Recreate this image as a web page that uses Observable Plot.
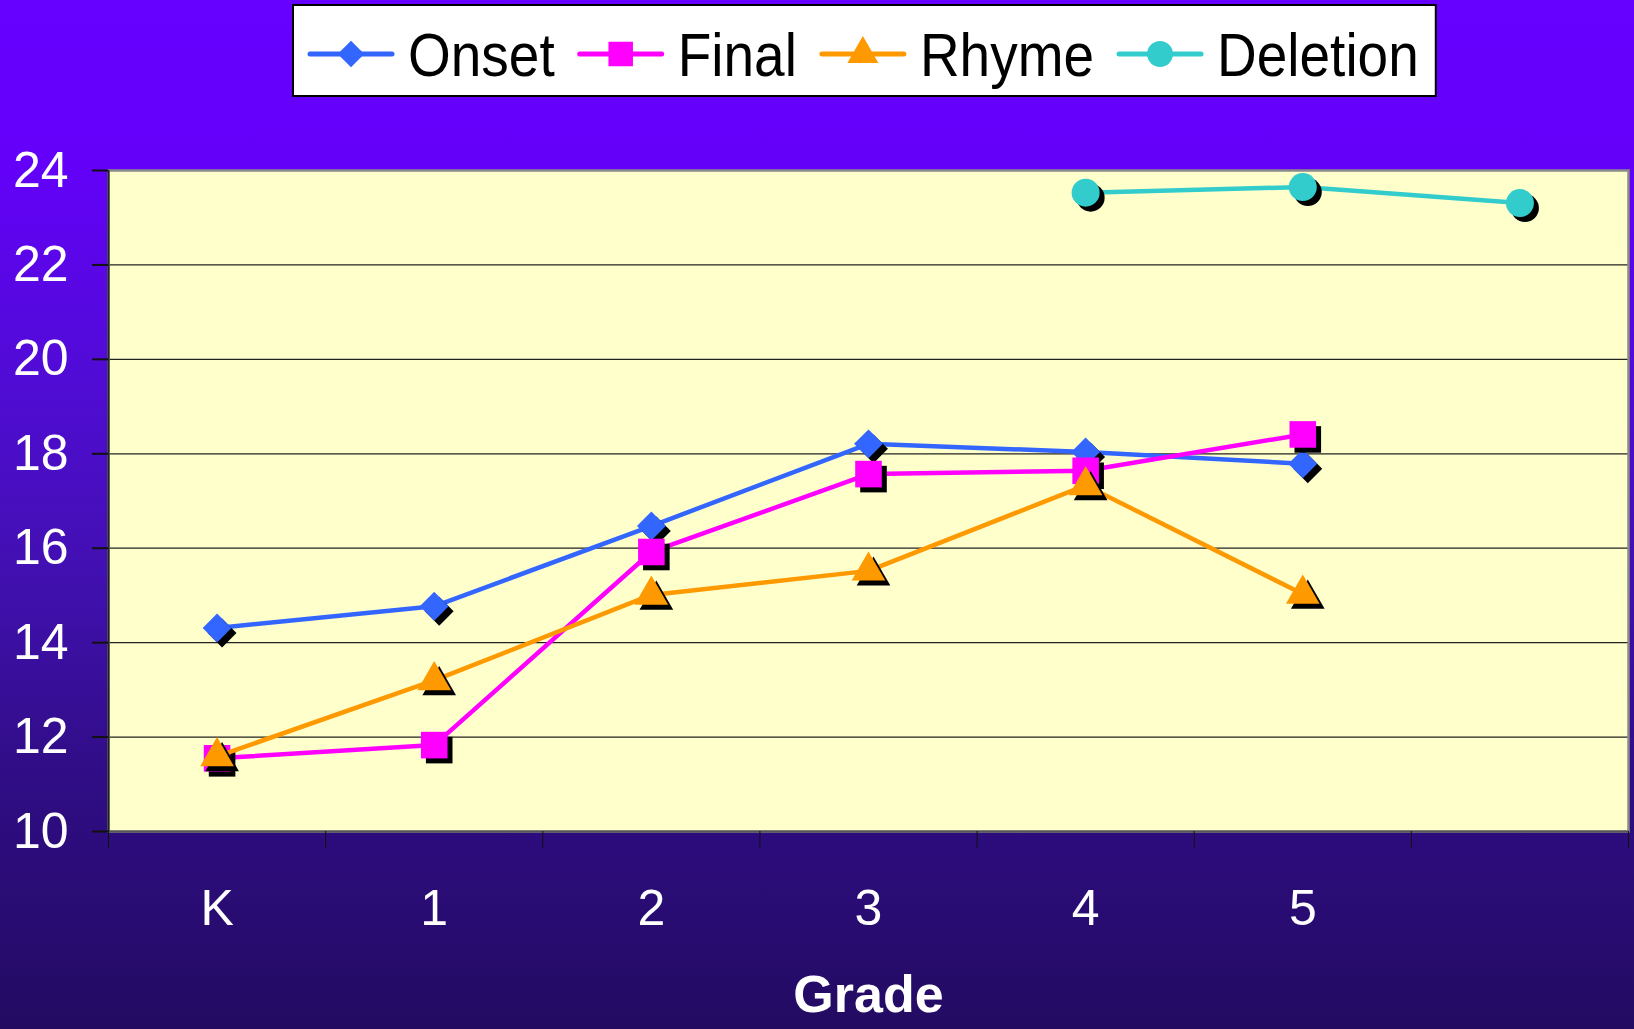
<!DOCTYPE html>
<html>
<head>
<meta charset="utf-8">
<script src="https://cdn.jsdelivr.net/npm/d3@7"></script>
<script src="https://cdn.jsdelivr.net/npm/@observablehq/plot@0.6"></script>
<style>
  html, body { margin: 0; padding: 0; }
  #wrap {
    position: relative; width: 1634px; height: 1029px; overflow: hidden;
    background: linear-gradient(to bottom, #6600ff 0%, #6400fa 15%, #520bd8 35%, #4210b2 55%, #300d86 75%, #230b62 100%);
    font-family: "Liberation Sans", Arial, sans-serif;
  }
  #chart { position: absolute; left: 0; top: 0; }
  #legend { position: absolute; left: 0; top: 0; }
</style>
</head>
<body>
<div id="wrap"><div id="chart"></div><svg id="legend" width="1634" height="110"></svg></div>
<script>
// ---- data ----
const grades = ["K", "1", "2", "3", "4", "5", "6"];
const gradeLabels = ["K", "1", "2", "3", "4", "5", ""];
const seriesNames = ["Onset", "Final", "Rhyme", "Deletion"];
const onsetGrades = ["K", "1", "2", "3", "4", "5"];
const onsetValues = [14.31, 14.77, 16.47, 18.21, 18.04, 17.79];
const finalGrades = ["K", "1", "2", "3", "4", "5"];
const finalValues = [11.55, 11.83, 15.92, 17.57, 17.64, 18.41];
const rhymeGrades = ["K", "1", "2", "3", "4", "5"];
const rhymeValues = [11.59, 13.2, 15.01, 15.52, 17.33, 15.03];
const deletionGrades = ["4", "5", "6"];
const deletionValues = [23.53, 23.65, 23.31];
const yTicks = [10, 12, 14, 16, 18, 20, 22, 24];
const yDomain = [10, 24];

// ---- styles ----
const styles = {
  Onset:    {color: "#3366ff", symbol: "diamond2", r: 13},
  Final:    {color: "#ff00ff", symbol: "square",   r: 15},
  Rhyme:    {color: "#ff9900", symbol: "triangle", r: 12.5},
  Deletion: {color: "#33cccc", symbol: "circle",   r: 14}
};
const seriesData = {
  Onset: [onsetGrades, onsetValues],
  Final: [finalGrades, finalValues],
  Rhyme: [rhymeGrades, rhymeValues],
  Deletion: [deletionGrades, deletionValues]
};
const rows = seriesNames.map(name => {
  const [g, v] = seriesData[name];
  return g.map((grade, i) => ({series: name, grade, gi: grades.indexOf(grade), value: v[i]}));
});

const xDomain = [-0.5, grades.length - 0.5];
const xBoundaries = d3.range(grades.length + 1).map(i => i - 0.5);
const xCenters = d3.range(grades.length);
const gridTicks = yTicks.filter(t => t > yDomain[0] && t < yDomain[1]);

const marks = [
  Plot.frame({fill: "#ffffcc", stroke: null}),
  Plot.ruleY(gridTicks, {stroke: "#222", strokeWidth: 1.2}),
  Plot.frame({stroke: "#8a8a8a", strokeWidth: 2.5}),
  Plot.ruleY([yDomain[0]], {stroke: "#555", strokeWidth: 2}),
  Plot.ruleX([xDomain[0]], {y1: yDomain[0], y2: yDomain[1], stroke: "#222", strokeWidth: 2}),
  Plot.axisX({ticks: xBoundaries, tickSize: 17, tickFormat: () => "", stroke: "#111", strokeWidth: 1, label: null}),
  Plot.axisX({ticks: xCenters, tickSize: 0, tickPadding: 58, tickFormat: i => gradeLabels[i], fill: "white", fontSize: 50, label: null}),
  Plot.axisY({ticks: yTicks, tickSize: 16, tickFormat: () => "", stroke: "#111", strokeWidth: 2, label: null}),
  Plot.axisY({ticks: yTicks, tickSize: 0, tickPadding: 40, fill: "white", fontSize: 50, label: null}),
  Plot.text(["Grade"], {frameAnchor: "bottom", lineAnchor: "top", dy: 144, text: d => d, fill: "white", fontSize: 52, fontWeight: "bold"})
];
seriesNames.forEach((name, k) => {
  const s = styles[name];
  marks.push(
    Plot.line(rows[k], {x: "gi", y: "value", stroke: s.color, strokeWidth: 4.5}),
    Plot.dot(rows[k], {x: "gi", y: "value", symbol: s.symbol, r: s.r, fill: "black", stroke: null, dx: 5, dy: 5}),
    Plot.dot(rows[k], {x: "gi", y: "value", symbol: s.symbol, r: s.r, fill: s.color, stroke: null})
  );
});

const chart = Plot.plot({
  width: 1634,
  height: 1029,
  marginTop: 170,
  marginBottom: 198,
  marginLeft: 108,
  marginRight: 6,
  style: {background: "transparent", fontFamily: "\"Liberation Sans\", Arial, sans-serif", overflow: "visible"},
  x: {type: "linear", domain: xDomain},
  y: {domain: yDomain},
  marks
});
document.getElementById("chart").appendChild(chart);

// ---- legend ----
const lg = d3.select("#legend");
const box = lg.append("rect").attr("x", 293).attr("y", 5).attr("height", 91)
  .attr("fill", "white").attr("stroke", "black").attr("stroke-width", 2);
const symMap = {diamond2: d3.symbolDiamond2, square: d3.symbolSquare, triangle: d3.symbolTriangle, circle: d3.symbolCircle};
let x = 293 + 17;
const cy = 54;
seriesNames.forEach(name => {
  const s = styles[name];
  lg.append("line").attr("x1", x).attr("x2", x + 82).attr("y1", cy).attr("y2", cy)
    .attr("stroke", s.color).attr("stroke-width", 5).attr("stroke-linecap", "round");
  lg.append("path").attr("transform", `translate(${x + 41},${cy})`)
    .attr("d", d3.symbol(symMap[s.symbol], Math.PI * s.r * s.r * 0.85)()).attr("fill", s.color);
  const t = lg.append("text").attr("transform", `translate(${x + 98},${cy}) scale(1,1.12)`)
    .attr("dy", "0.36em").attr("font-size", 55).attr("fill", "black")
    .attr("font-family", "\"Liberation Sans\", Arial, sans-serif").text(name);
  const w = t.node().getComputedTextLength();
  x = x + 98 + w + 25;
});
box.attr("width", x - 25 + 17 - 293);
</script>
</body>
</html>
